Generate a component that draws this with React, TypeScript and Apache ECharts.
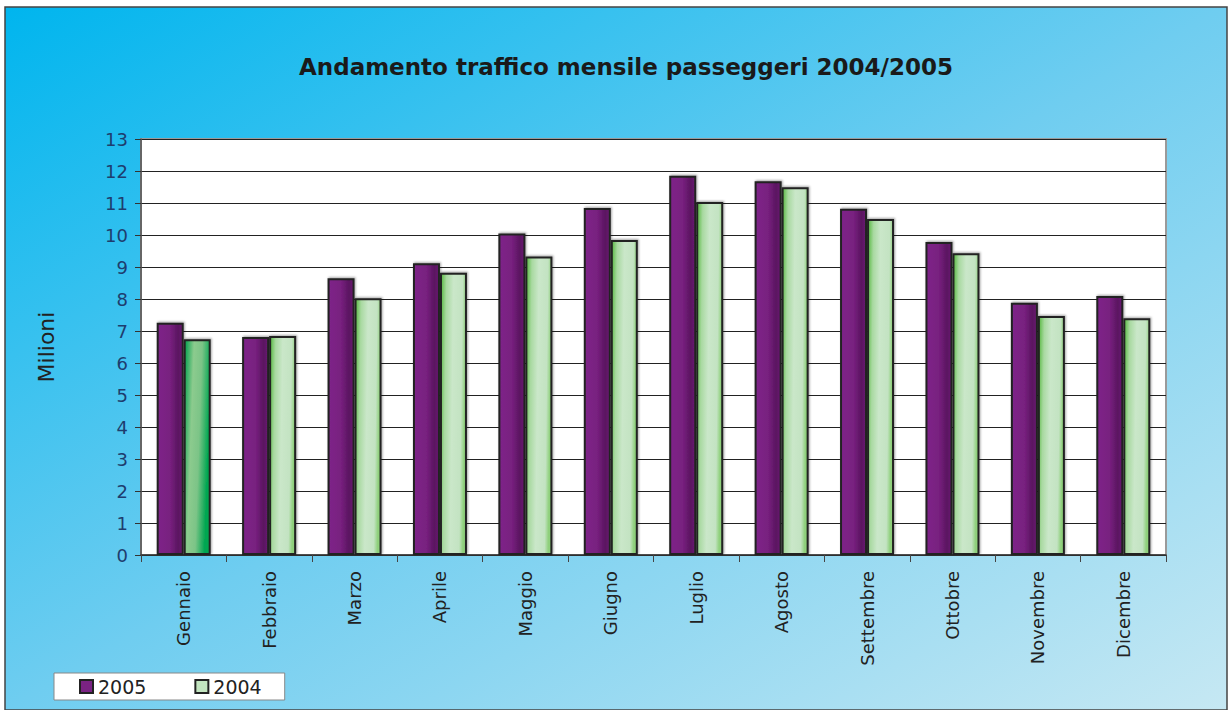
import React, { useEffect, useRef } from "react";
import * as echarts from "echarts";

const months = [
  "Gennaio", "Febbraio", "Marzo", "Aprile", "Maggio", "Giugno",
  "Luglio", "Agosto", "Settembre", "Ottobre", "Novembre", "Dicembre",
];
const values2005 = [7.26, 6.81, 8.65, 9.12, 10.05, 10.84, 11.85, 11.68, 10.82, 9.78, 7.88, 8.09];
const values2004 = [6.74, 6.84, 8.02, 8.82, 9.33, 9.84, 11.03, 11.49, 10.5, 9.43, 7.47, 7.4];
const yTicks = [0, 13, 1];
const titleText = "Andamento traffico mensile passeggeri 2004/2005";
const yName = "Milioni";
const seriesNames = ["2005", "2004"];

const FONT = "'DejaVu Sans', Verdana, sans-serif";

export default function App() {
  const ref = useRef<HTMLDivElement>(null);
  useEffect(() => {
    document.body.style.margin = "0";
    const chart = echarts.init(ref.current!, null, { renderer: "svg" });
    const purple = new echarts.graphic.LinearGradient(0, 0, 1, 0, [
      { offset: 0, color: "#7e2589" },
      { offset: 0.5, color: "#78207f" },
      { offset: 0.82, color: "#5a1560" },
      { offset: 1, color: "#6b1c73" },
    ]);
    const green = new echarts.graphic.LinearGradient(0, 0, 1, 0.15, [
      { offset: 0, color: "#55b83e" },
      { offset: 0.22, color: "#a8d9a0" },
      { offset: 0.5, color: "#cae7c9" },
      { offset: 0.85, color: "#c3e3c2" },
      { offset: 1, color: "#8fd07c" },
    ]);
    const greenDark = new echarts.graphic.LinearGradient(0, 0, 1, 0.3, [
      { offset: 0, color: "#00a04c" },
      { offset: 0.35, color: "#8ccb8e" },
      { offset: 0.65, color: "#7cc487" },
      { offset: 1, color: "#00a651" },
    ]);
    const barBorder = { borderColor: "#222", borderWidth: 2, shadowColor: "rgba(0,0,0,0.35)", shadowBlur: 2, shadowOffsetX: 1, shadowOffsetY: -1 };
    chart.setOption({
      animation: false,
      textStyle: { fontFamily: FONT },
      graphic: [
        {
          type: "rect",
          z: -10,
          silent: true,
          shape: { x: 5, y: 7, width: 1222, height: 703 },
          style: {
            fill: new echarts.graphic.LinearGradient(0, 0, 1, 1, [
              { offset: 0, color: "#00b5ee" },
              { offset: 0.5, color: "#6fcdf0" },
              { offset: 1, color: "#c6e8f3" },
            ]),
            stroke: "#444",
            lineWidth: 1.5,
          },
        },
      ],
      title: {
        text: titleText,
        left: 621,
        textAlign: "center",
        top: 50,
        textStyle: { fontFamily: FONT, fontSize: 23, fontWeight: "bold", color: "#1a1a1a" },
      },
      legend: {
        left: 54,
        top: 673,
        orient: "horizontal",
        backgroundColor: "#ffffff",
        borderColor: "#888",
        borderWidth: 1,
        borderRadius: 0,
        padding: [4, 23, 4, 25],
        itemWidth: 13,
        itemHeight: 13,
        itemGap: 48,
        icon: "rect",
        textStyle: { fontFamily: FONT, fontSize: 19, color: "#222" },
        data: [
          { name: seriesNames[0], itemStyle: { color: "#7a2383", borderColor: "#222", borderWidth: 2 } },
          { name: seriesNames[1], itemStyle: { color: "#c3e5c0", borderColor: "#222", borderWidth: 2 } },
        ],
      },
      grid: {
        left: 141,
        right: 63,
        top: 139,
        bottom: 155,
        show: true,
        backgroundColor: "#ffffff",
        borderColor: "#9a9a9a",
        borderWidth: 2,
        containLabel: false,
      },
      xAxis: {
        type: "category",
        data: months,
        axisLine: { show: true, lineStyle: { color: "#333", width: 1.5 } },
        axisTick: { show: true, alignWithLabel: false, length: 7, lineStyle: { color: "#444" } },
        axisLabel: {
          rotate: 90,
          margin: 16,
          interval: 0,
          fontFamily: FONT,
          fontSize: 18,
          color: "#222",
        },
      },
      yAxis: {
        type: "value",
        min: yTicks[0],
        max: yTicks[1],
        interval: yTicks[2],
        name: yName,
        nameLocation: "middle",
        nameRotate: 90,
        nameGap: 84,
        nameTextStyle: { fontFamily: FONT, fontSize: 22, color: "#222" },
        axisLine: { show: true, lineStyle: { color: "#555", width: 1.5 } },
        axisTick: { show: true, length: 6, lineStyle: { color: "#333" } },
        axisLabel: { margin: 13, fontFamily: FONT, fontSize: 18, color: "#1e3d6e" },
        splitLine: { show: true, lineStyle: { color: "#222", width: 1.2 } },
      },
      series: [
        {
          name: seriesNames[0],
          type: "bar",
          barWidth: 27,
          barGap: "0%",
          itemStyle: { color: purple, ...barBorder },
          data: values2005,
        },
        {
          name: seriesNames[1],
          type: "bar",
          barWidth: 27,
          barGap: "0%",
          itemStyle: { color: green, ...barBorder },
          data: values2004.map((v, i) =>
            i === 0 ? { value: v, itemStyle: { color: greenDark } } : v
          ),
        },
      ],
    });
    return () => chart.dispose();
  }, []);
  return <div ref={ref} style={{ width: 1229, height: 710 }} />;
}
